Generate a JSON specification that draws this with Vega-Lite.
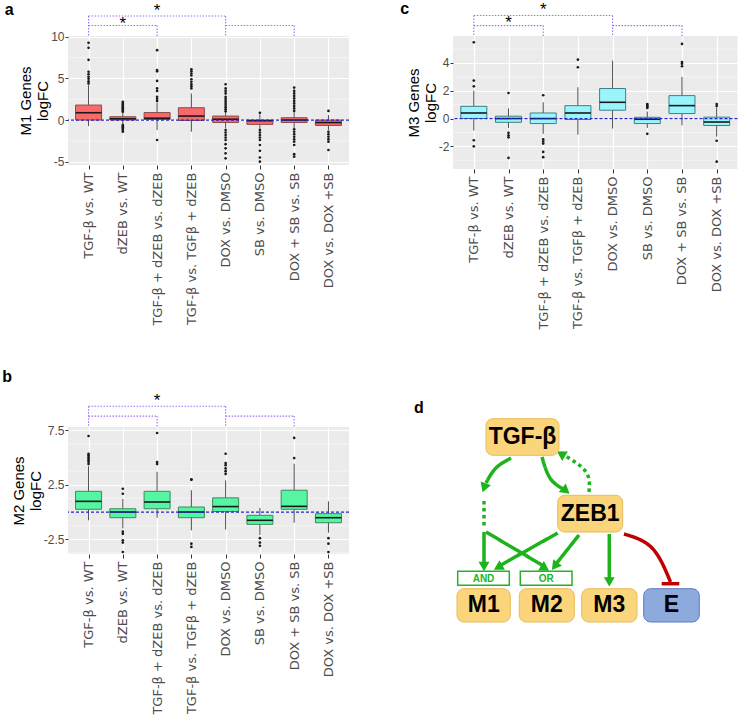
{
  "$schema": "https://vega.github.io/schema/vega-lite/v6.json",
  "background": "white",
  "padding": {"left": 2, "top": 0, "right": 0, "bottom": 0},
  "config": {
    "view": {"fill": "#EBEBEB", "stroke": null},
    "font": "Liberation Sans",
    "axisY": {"labelOverlap": false, "labelFlush": false, "labelBound": false, "labelSeparation": -40},
    "title": {"fontSize": 16, "fontWeight": "bold", "anchor": "start", "font": "Liberation Sans", "color": "black"}
  },
  "datasets": {
    "gridA": [{"v": -2.5}, {"v": 2.5}, {"v": 7.5}],
    "gridB": [{"v": -3.75}, {"v": -1.25}, {"v": 1.25}, {"v": 3.75}, {"v": 6.25}],
    "gridC": [{"v": -3}, {"v": -1}, {"v": 1}, {"v": 3}, {"v": 5}],
    "boxA": [
      {"g": "TGF-β vs. WT", "lo": -0.72, "q1": 0.0, "med": 0.88, "q3": 1.8, "hi": 4.2},
      {"g": "dZEB vs. WT", "lo": -0.5, "q1": 0.0, "med": 0.15, "q3": 0.4, "hi": 0.95},
      {"g": "TGF-β + dZEB vs. dZEB", "lo": -1.2, "q1": 0.07, "med": 0.22, "q3": 0.9, "hi": 2.1},
      {"g": "TGF-β vs. TGFβ + dZEB", "lo": -1.4, "q1": -0.05, "med": 0.48, "q3": 1.48, "hi": 3.2},
      {"g": "DOX vs. DMSO", "lo": -1.0, "q1": -0.29, "med": 0.1, "q3": 0.48, "hi": 0.95},
      {"g": "SB vs. DMSO", "lo": -1.1, "q1": -0.52, "med": -0.08, "q3": 0.0, "hi": 0.7},
      {"g": "DOX + SB vs. SB", "lo": -1.0, "q1": -0.29, "med": 0.0, "q3": 0.28, "hi": 0.95},
      {"g": "DOX vs. DOX +SB", "lo": -1.2, "q1": -0.65, "med": -0.3, "q3": 0.0, "hi": 0.6}
    ],
    "outA": [
      {"g": "TGF-β vs. WT", "v": [9.28, 8.68, 7.24, 5.8, 5.5, 5.2, 4.95, 4.65, 4.4]},
      {"g": "dZEB vs. WT", "v": [2.2, 2.0, 1.85, 1.7, 1.55, 1.4, 1.25, 1.1, 1.0, -0.6, -0.75, -0.9, -1.05, -1.2, -1.4]},
      {"g": "TGF-β + dZEB vs. dZEB", "v": [8.4, 6.0, 5.85, 4.7, 3.8, 3.5, 2.8, 2.55, 2.3, -2.4]},
      {"g": "TGF-β vs. TGFβ + dZEB", "v": [6.1, 5.85, 5.6, 5.35, 4.9, 4.6, 4.3, 4.05, 3.8]},
      {"g": "DOX vs. DMSO", "v": [4.3, 3.8, 3.5, 3.2, 2.8, 2.55, 2.3, 2.05, 1.8, 1.55, 1.3, 1.05, -1.2, -1.5, -1.8, -2.1, -2.4, -2.9, -3.4, -4.0, -4.6]},
      {"g": "SB vs. DMSO", "v": [0.88, -1.2, -1.5, -1.8, -2.1, -2.4, -3.0, -3.7, -4.5, -5.0]},
      {"g": "DOX + SB vs. SB", "v": [3.9, 3.5, 3.2, 2.9, 2.6, 2.3, 2.0, 1.7, 1.4, 1.1, -1.1, -1.4, -1.7, -2.0, -2.3, -2.6, -3.0, -4.1, -4.4]},
      {"g": "DOX vs. DOX +SB", "v": [1.1, -1.4, -1.7, -2.0, -2.3, -2.6, -3.6]}
    ],
    "boxB": [
      {"g": "TGF-β vs. WT", "lo": -0.76, "q1": 0.25, "med": 0.98, "q3": 1.9, "hi": 4.2},
      {"g": "dZEB vs. WT", "lo": -1.5, "q1": -0.52, "med": 0.0, "q3": 0.3, "hi": 1.2},
      {"g": "TGF-β + dZEB vs. dZEB", "lo": -0.52, "q1": 0.3, "med": 0.92, "q3": 1.9, "hi": 3.7},
      {"g": "TGF-β vs. TGFβ + dZEB", "lo": -1.68, "q1": -0.52, "med": 0.0, "q3": 0.46, "hi": 2.0},
      {"g": "DOX vs. DMSO", "lo": -1.6, "q1": 0.05, "med": 0.5, "q3": 1.3, "hi": 2.9},
      {"g": "SB vs. DMSO", "lo": -2.1, "q1": -1.13, "med": -0.76, "q3": -0.3, "hi": 0.37},
      {"g": "DOX + SB vs. SB", "lo": -0.98, "q1": 0.25, "med": 0.52, "q3": 2.0, "hi": 4.43},
      {"g": "DOX vs. DOX +SB", "lo": -1.9, "q1": -0.98, "med": -0.52, "q3": -0.15, "hi": 0.98}
    ],
    "outB": [
      {"g": "TGF-β vs. WT", "v": [6.97, 5.35, 5.2, 5.05, 4.9, 4.75, 4.6, 4.4]},
      {"g": "dZEB vs. WT", "v": [2.14, 1.68, -1.8, -2.0, -2.6, -2.8, -3.67]},
      {"g": "TGF-β + dZEB vs. dZEB", "v": [7.25, 4.59, 4.4]},
      {"g": "TGF-β vs. TGFβ + dZEB", "v": [3.0, 2.95, -2.9, -3.2]},
      {"g": "DOX vs. DMSO", "v": [5.35, 4.5, 4.3, 4.0, 3.75, 3.5]},
      {"g": "SB vs. DMSO", "v": [-2.4, -2.8, -3.1]},
      {"g": "DOX + SB vs. SB", "v": [6.8, 4.95]},
      {"g": "DOX vs. DOX +SB", "v": [-2.4, -2.9, -3.67]}
    ],
    "boxC": [
      {"g": "TGF-β vs. WT", "lo": -0.86, "q1": 0.0, "med": 0.4, "q3": 0.88, "hi": 2.0},
      {"g": "dZEB vs. WT", "lo": -0.67, "q1": -0.27, "med": 0.0, "q3": 0.17, "hi": 0.72},
      {"g": "TGF-β + dZEB vs. dZEB", "lo": -1.1, "q1": -0.36, "med": 0.0, "q3": 0.4, "hi": 1.17},
      {"g": "TGF-β vs. TGFβ + dZEB", "lo": -1.15, "q1": -0.07, "med": 0.4, "q3": 0.93, "hi": 2.25},
      {"g": "DOX vs. DMSO", "lo": -0.72, "q1": 0.6, "med": 1.17, "q3": 2.16, "hi": 4.17},
      {"g": "SB vs. DMSO", "lo": -0.67, "q1": -0.36, "med": -0.05, "q3": 0.09, "hi": 0.5},
      {"g": "DOX + SB vs. SB", "lo": -0.48, "q1": 0.36, "med": 0.93, "q3": 1.65, "hi": 3.0},
      {"g": "DOX vs. DOX +SB", "lo": -1.3, "q1": -0.5, "med": -0.25, "q3": 0.1, "hi": 0.8}
    ],
    "outC": [
      {"g": "TGF-β vs. WT", "v": [5.49, 2.73, 2.32, -1.56, -2.0]},
      {"g": "dZEB vs. WT", "v": [1.84, -1.03, -1.2, -1.35, -2.83]},
      {"g": "TGF-β + dZEB vs. dZEB", "v": [1.68, -1.5, -1.65, -1.8, -2.4, -2.78]},
      {"g": "TGF-β vs. TGFβ + dZEB", "v": [4.24, 3.69]},
      {"g": "SB vs. DMSO", "v": [1.05, 0.97, 0.9, 0.83, 0.76, -1.1]},
      {"g": "DOX + SB vs. SB", "v": [5.37, 4.07, 3.95, 3.76]},
      {"g": "DOX vs. DOX +SB", "v": [1.05, 0.9, -1.6, -3.1]}
    ],
    "brA_h": [
      {"g": "TGF-β vs. WT", "g2": "DOX vs. DMSO", "lev": 12.5},
      {"g": "TGF-β vs. WT", "g2": "TGF-β + dZEB vs. dZEB", "lev": 11.36},
      {"g": "DOX vs. DMSO", "g2": "DOX + SB vs. SB", "lev": 11.36}
    ],
    "brA_v": [
      {"g": "TGF-β vs. WT", "lev": 12.5},
      {"g": "DOX vs. DMSO", "lev": 12.5},
      {"g": "TGF-β + dZEB vs. dZEB", "lev": 11.36},
      {"g": "DOX + SB vs. SB", "lev": 11.36}
    ],
    "starA": [
      {"g": "TGF-β + dZEB vs. dZEB", "lev": 14.1},
      {"g": "dZEB vs. WT", "lev": 12.55}
    ],
    "brB_h": [
      {"g": "TGF-β vs. WT", "g2": "DOX vs. DMSO", "lev": 9.7},
      {"g": "TGF-β vs. WT", "g2": "TGF-β + dZEB vs. dZEB", "lev": 8.8},
      {"g": "DOX vs. DMSO", "g2": "DOX + SB vs. SB", "lev": 8.8}
    ],
    "brB_v": [
      {"g": "TGF-β vs. WT", "lev": 9.7},
      {"g": "DOX vs. DMSO", "lev": 9.7},
      {"g": "TGF-β + dZEB vs. dZEB", "lev": 8.8},
      {"g": "DOX + SB vs. SB", "lev": 8.8}
    ],
    "starB": [
      {"g": "TGF-β + dZEB vs. dZEB", "lev": 10.96}
    ],
    "brC_h": [
      {"g": "TGF-β vs. WT", "g2": "DOX vs. DMSO", "lev": 7.41},
      {"g": "TGF-β vs. WT", "g2": "TGF-β + dZEB vs. dZEB", "lev": 6.69},
      {"g": "DOX vs. DMSO", "g2": "DOX + SB vs. SB", "lev": 6.69}
    ],
    "brC_v": [
      {"g": "TGF-β vs. WT", "lev": 7.41},
      {"g": "DOX vs. DMSO", "lev": 7.41},
      {"g": "TGF-β + dZEB vs. dZEB", "lev": 6.69},
      {"g": "DOX + SB vs. SB", "lev": 6.69}
    ],
    "starC": [
      {"g": "TGF-β + dZEB vs. dZEB", "lev": 8.41},
      {"g": "dZEB vs. WT", "lev": 7.48}
    ],
    "nodesD": [
      {"label": "TGF-β", "x": 485, "x2": 558, "y": 416.7, "y2": 453.3, "cx": 521.5, "cy": 435, "kind": "node"},
      {"label": "ZEB1", "x": 556.7, "x2": 621.7, "y": 493.3, "y2": 530, "cx": 589.2, "cy": 511.7, "kind": "node"},
      {"label": "M1", "x": 456, "x2": 509.3, "y": 586.7, "y2": 620, "cx": 482.7, "cy": 603.3, "kind": "node"},
      {"label": "M2", "x": 518.3, "x2": 573.3, "y": 586.7, "y2": 620, "cx": 545.8, "cy": 603.3, "kind": "node"},
      {"label": "M3", "x": 580.7, "x2": 636, "y": 586.7, "y2": 620, "cx": 608.3, "cy": 603.3, "kind": "node"},
      {"label": "E", "x": 642.7, "x2": 698.3, "y": 586.7, "y2": 620, "cx": 670.5, "cy": 603.3, "kind": "target"}
    ],
    "logicD": [
      {"label": "AND", "x": 456.7, "x2": 508.3, "y": 569.3, "y2": 583.3, "cx": 482.5, "cy": 576.5},
      {"label": "OR", "x": 519.3, "x2": 571, "y": 569.3, "y2": 583.3, "cx": 545.2, "cy": 576.5}
    ],
    "pathsD": [
      {"id": "p1", "style": "solid", "o": 1, "x": 510, "y": 456},
      {"id": "p1", "style": "solid", "o": 2, "x": 495, "y": 466},
      {"id": "p1", "style": "solid", "o": 3, "x": 485, "y": 481},
      {"id": "p2", "style": "dotted", "o": 1, "x": 483, "y": 499},
      {"id": "p2", "style": "dotted", "o": 2, "x": 483, "y": 527},
      {"id": "p3", "style": "solid", "o": 1, "x": 483, "y": 530},
      {"id": "p3", "style": "solid", "o": 2, "x": 483, "y": 561},
      {"id": "p4", "style": "solid", "o": 1, "x": 485, "y": 530},
      {"id": "p4", "style": "solid", "o": 2, "x": 541, "y": 563},
      {"id": "p5", "style": "solid", "o": 1, "x": 541, "y": 455},
      {"id": "p5", "style": "solid", "o": 2, "x": 549, "y": 476},
      {"id": "p5", "style": "solid", "o": 3, "x": 562, "y": 487},
      {"id": "p6", "style": "dotted", "o": 1, "x": 588, "y": 490},
      {"id": "p6", "style": "dotted", "o": 2, "x": 585, "y": 470},
      {"id": "p6", "style": "dotted", "o": 3, "x": 563, "y": 453},
      {"id": "p7", "style": "solid", "o": 1, "x": 556.7, "y": 531},
      {"id": "p7", "style": "solid", "o": 2, "x": 500, "y": 563},
      {"id": "p8", "style": "solid", "o": 1, "x": 578, "y": 533},
      {"id": "p8", "style": "solid", "o": 2, "x": 555, "y": 562},
      {"id": "p9", "style": "solid", "o": 1, "x": 608.3, "y": 532},
      {"id": "p9", "style": "solid", "o": 2, "x": 608.3, "y": 576},
      {"id": "p10", "style": "inhib", "o": 1, "x": 623, "y": 532},
      {"id": "p10", "style": "inhib", "o": 2, "x": 651, "y": 546},
      {"id": "p10", "style": "inhib", "o": 3, "x": 669.5, "y": 580}
    ],
    "headsD": [
      {"x": 483.7, "y": 484.3, "angle": 200},
      {"x": 483, "y": 563, "angle": 180},
      {"x": 542.7, "y": 565.4, "angle": 121.5},
      {"x": 563.7, "y": 487.8, "angle": 130},
      {"x": 561.3, "y": 452.6, "angle": 301},
      {"x": 498.4, "y": 564.6, "angle": 240.7},
      {"x": 554.7, "y": 563, "angle": 217.3},
      {"x": 608.3, "y": 578.3, "angle": 180}
    ],
    "barD": [
      {"x": 660.7, "x2": 678.3, "y": 581.7}
    ]
  },
  "spacing": 38,
  "vconcat": [
    {
      "spacing": 50,
      "hconcat": [
        {
          "width": 281, "height": 129,
          "title": {"text": "a", "dx": -14, "offset": -15.8},
          "layer": [
            {"data": {"name": "gridA"}, "mark": {"type": "rule", "color": "white", "strokeWidth": 0.5},
             "encoding": {"y": {"field": "v", "type": "quantitative", "scale": {"domain": [-5.4, 10.1], "nice": false, "zero": false},
                     "axis": {"title": ["M1 Genes", "logFC"], "titleFont": "Liberation Sans", "titleFontSize": 15, "titleFontWeight": "normal", "titleColor": "black", "titlePadding": 0, "titleLineHeight": 17, "values": [-5, 0, 5, 10], "labelExpr": "replace(datum.label, '−', '-')", "labelOverlap": false, "labelFontSize": 12, "labelColor": "#4D4D4D", "labelPadding": 1, "tickSize": 3, "tickColor": "#333333", "domain": false, "grid": true, "gridColor": "white", "gridWidth": 1.2}}}},
            {"data": {"name": "boxA"}, "mark": {"type": "rule", "color": "#4D4D4D", "strokeWidth": 1},
             "encoding": {
               "x": {"field": "g", "type": "nominal", "scale": {"type": "point", "padding": 0.6, "domain": ["TGF-β vs. WT", "dZEB vs. WT", "TGF-β + dZEB vs. dZEB", "TGF-β vs. TGFβ + dZEB", "DOX vs. DMSO", "SB vs. DMSO", "DOX + SB vs. SB", "DOX vs. DOX +SB"]},
                     "axis": {"title": null, "labelAngle": -90, "labelFont": "DejaVu Sans", "labelFontSize": 13, "labelColor": "#4D4D4D", "labelPadding": 3, "labelLimit": 0, "labelOverlap": false, "tickColor": "#333333", "tickSize": 4, "domain": false, "grid": true, "gridColor": "white", "gridWidth": 1.2}},
               "y": {"field": "lo", "type": "quantitative", "scale": {"domain": [-5.4, 10.1], "nice": false, "zero": false}},
               "y2": {"field": "hi"}}},
            {"data": {"name": "boxA"}, "mark": {"type": "bar", "size": 26, "fill": "#F8696B", "stroke": "#8C4A4A", "strokeWidth": 1},
             "encoding": {
               "x": {"field": "g", "type": "nominal", "scale": {"type": "point", "padding": 0.6, "domain": ["TGF-β vs. WT", "dZEB vs. WT", "TGF-β + dZEB vs. dZEB", "TGF-β vs. TGFβ + dZEB", "DOX vs. DMSO", "SB vs. DMSO", "DOX + SB vs. SB", "DOX vs. DOX +SB"]}},
               "y": {"field": "q1", "type": "quantitative", "scale": {"domain": [-5.4, 10.1], "nice": false, "zero": false}},
               "y2": {"field": "q3"}}},
            {"data": {"name": "boxA"}, "mark": {"type": "tick", "size": 26, "thickness": 1.6, "color": "#1A1A1A", "opacity": 1},
             "encoding": {
               "x": {"field": "g", "type": "nominal", "scale": {"type": "point", "padding": 0.6, "domain": ["TGF-β vs. WT", "dZEB vs. WT", "TGF-β + dZEB vs. dZEB", "TGF-β vs. TGFβ + dZEB", "DOX vs. DMSO", "SB vs. DMSO", "DOX + SB vs. SB", "DOX vs. DOX +SB"]}},
               "y": {"field": "med", "type": "quantitative", "scale": {"domain": [-5.4, 10.1], "nice": false, "zero": false}}}},
            {"data": {"name": "outA"}, "transform": [{"flatten": ["v"]}], "mark": {"type": "point", "filled": true, "size": 7, "color": "#1A1A1A", "opacity": 1},
             "encoding": {
               "x": {"field": "g", "type": "nominal", "scale": {"type": "point", "padding": 0.6, "domain": ["TGF-β vs. WT", "dZEB vs. WT", "TGF-β + dZEB vs. dZEB", "TGF-β vs. TGFβ + dZEB", "DOX vs. DMSO", "SB vs. DMSO", "DOX + SB vs. SB", "DOX vs. DOX +SB"]}},
               "y": {"field": "v", "type": "quantitative", "scale": {"domain": [-5.4, 10.1], "nice": false, "zero": false}}}},
            {"data": {"values": [{}]}, "mark": {"type": "rule", "color": "#2424D0", "strokeDash": [3, 2], "strokeWidth": 1.2},
             "encoding": {"y": {"datum": 0, "type": "quantitative", "scale": {"domain": [-5.4, 10.1], "nice": false, "zero": false}}}},
            {"data": {"name": "brA_h"}, "mark": {"type": "rule", "color": "#9F6FF2", "strokeDash": [1.5, 1.5], "strokeWidth": 1.1},
             "encoding": {
               "x": {"field": "g", "type": "nominal", "scale": {"type": "point", "padding": 0.6, "domain": ["TGF-β vs. WT", "dZEB vs. WT", "TGF-β + dZEB vs. dZEB", "TGF-β vs. TGFβ + dZEB", "DOX vs. DMSO", "SB vs. DMSO", "DOX + SB vs. SB", "DOX vs. DOX +SB"]}},
               "x2": {"field": "g2"},
               "y": {"field": "lev", "type": "quantitative", "scale": {"domain": [-5.4, 10.1], "nice": false, "zero": false}}}},
            {"data": {"name": "brA_v"}, "mark": {"type": "rule", "color": "#9F6FF2", "strokeDash": [1.5, 1.5], "strokeWidth": 1.1},
             "encoding": {
               "x": {"field": "g", "type": "nominal", "scale": {"type": "point", "padding": 0.6, "domain": ["TGF-β vs. WT", "dZEB vs. WT", "TGF-β + dZEB vs. dZEB", "TGF-β vs. TGFβ + dZEB", "DOX vs. DMSO", "SB vs. DMSO", "DOX + SB vs. SB", "DOX vs. DOX +SB"]}},
               "y": {"field": "lev", "type": "quantitative", "scale": {"domain": [-5.4, 10.1], "nice": false, "zero": false}},
               "y2": {"datum": 10.1}}},
            {"data": {"name": "starA"}, "mark": {"type": "text", "text": "*", "fontSize": 17, "font": "Liberation Sans", "color": "black", "baseline": "top"},
             "encoding": {
               "x": {"field": "g", "type": "nominal", "scale": {"type": "point", "padding": 0.6, "domain": ["TGF-β vs. WT", "dZEB vs. WT", "TGF-β + dZEB vs. dZEB", "TGF-β vs. TGFβ + dZEB", "DOX vs. DMSO", "SB vs. DMSO", "DOX + SB vs. SB", "DOX vs. DOX +SB"]}},
               "y": {"field": "lev", "type": "quantitative", "scale": {"domain": [-5.4, 10.1], "nice": false, "zero": false}}}}
          ]
        },
        {
          "width": 284.5, "height": 133,
          "title": {"text": "c", "dx": -6, "offset": -16.8},
          "layer": [
            {"data": {"name": "gridC"}, "mark": {"type": "rule", "color": "white", "strokeWidth": 0.5},
             "encoding": {"y": {"field": "v", "type": "quantitative", "scale": {"domain": [-3.63, 5.94], "nice": false, "zero": false},
                     "axis": {"title": ["M3 Genes", "logFC"], "titleFont": "Liberation Sans", "titleFontSize": 15, "titleFontWeight": "normal", "titleColor": "black", "titlePadding": 0, "titleLineHeight": 17, "values": [-2, 0, 2, 4], "labelExpr": "replace(datum.label, '−', '-')", "labelOverlap": false, "labelFontSize": 12, "labelColor": "#4D4D4D", "labelPadding": 1, "tickSize": 3, "tickColor": "#333333", "domain": false, "grid": true, "gridColor": "white", "gridWidth": 1.2}}}},
            {"data": {"name": "boxC"}, "mark": {"type": "rule", "color": "#4D4D4D", "strokeWidth": 1},
             "encoding": {
               "x": {"field": "g", "type": "nominal", "scale": {"type": "point", "padding": 0.6, "domain": ["TGF-β vs. WT", "dZEB vs. WT", "TGF-β + dZEB vs. dZEB", "TGF-β vs. TGFβ + dZEB", "DOX vs. DMSO", "SB vs. DMSO", "DOX + SB vs. SB", "DOX vs. DOX +SB"]},
                     "axis": {"title": null, "labelAngle": -90, "labelFont": "DejaVu Sans", "labelFontSize": 13, "labelColor": "#4D4D4D", "labelPadding": 3, "labelLimit": 0, "labelOverlap": false, "tickColor": "#333333", "tickSize": 4, "domain": false, "grid": true, "gridColor": "white", "gridWidth": 1.2}},
               "y": {"field": "lo", "type": "quantitative", "scale": {"domain": [-3.63, 5.94], "nice": false, "zero": false}},
               "y2": {"field": "hi"}}},
            {"data": {"name": "boxC"}, "mark": {"type": "bar", "size": 26, "fill": "#9AF4FB", "stroke": "#3F7F84", "strokeWidth": 1},
             "encoding": {
               "x": {"field": "g", "type": "nominal", "scale": {"type": "point", "padding": 0.6, "domain": ["TGF-β vs. WT", "dZEB vs. WT", "TGF-β + dZEB vs. dZEB", "TGF-β vs. TGFβ + dZEB", "DOX vs. DMSO", "SB vs. DMSO", "DOX + SB vs. SB", "DOX vs. DOX +SB"]}},
               "y": {"field": "q1", "type": "quantitative", "scale": {"domain": [-3.63, 5.94], "nice": false, "zero": false}},
               "y2": {"field": "q3"}}},
            {"data": {"name": "boxC"}, "mark": {"type": "tick", "size": 26, "thickness": 1.6, "color": "#1A1A1A", "opacity": 1},
             "encoding": {
               "x": {"field": "g", "type": "nominal", "scale": {"type": "point", "padding": 0.6, "domain": ["TGF-β vs. WT", "dZEB vs. WT", "TGF-β + dZEB vs. dZEB", "TGF-β vs. TGFβ + dZEB", "DOX vs. DMSO", "SB vs. DMSO", "DOX + SB vs. SB", "DOX vs. DOX +SB"]}},
               "y": {"field": "med", "type": "quantitative", "scale": {"domain": [-3.63, 5.94], "nice": false, "zero": false}}}},
            {"data": {"name": "outC"}, "transform": [{"flatten": ["v"]}], "mark": {"type": "point", "filled": true, "size": 7, "color": "#1A1A1A", "opacity": 1},
             "encoding": {
               "x": {"field": "g", "type": "nominal", "scale": {"type": "point", "padding": 0.6, "domain": ["TGF-β vs. WT", "dZEB vs. WT", "TGF-β + dZEB vs. dZEB", "TGF-β vs. TGFβ + dZEB", "DOX vs. DMSO", "SB vs. DMSO", "DOX + SB vs. SB", "DOX vs. DOX +SB"]}},
               "y": {"field": "v", "type": "quantitative", "scale": {"domain": [-3.63, 5.94], "nice": false, "zero": false}}}},
            {"data": {"values": [{}]}, "mark": {"type": "rule", "color": "#2424D0", "strokeDash": [3, 2], "strokeWidth": 1.2},
             "encoding": {"y": {"datum": 0, "type": "quantitative", "scale": {"domain": [-3.63, 5.94], "nice": false, "zero": false}}}},
            {"data": {"name": "brC_h"}, "mark": {"type": "rule", "color": "#9F6FF2", "strokeDash": [1.5, 1.5], "strokeWidth": 1.1},
             "encoding": {
               "x": {"field": "g", "type": "nominal", "scale": {"type": "point", "padding": 0.6, "domain": ["TGF-β vs. WT", "dZEB vs. WT", "TGF-β + dZEB vs. dZEB", "TGF-β vs. TGFβ + dZEB", "DOX vs. DMSO", "SB vs. DMSO", "DOX + SB vs. SB", "DOX vs. DOX +SB"]}},
               "x2": {"field": "g2"},
               "y": {"field": "lev", "type": "quantitative", "scale": {"domain": [-3.63, 5.94], "nice": false, "zero": false}}}},
            {"data": {"name": "brC_v"}, "mark": {"type": "rule", "color": "#9F6FF2", "strokeDash": [1.5, 1.5], "strokeWidth": 1.1},
             "encoding": {
               "x": {"field": "g", "type": "nominal", "scale": {"type": "point", "padding": 0.6, "domain": ["TGF-β vs. WT", "dZEB vs. WT", "TGF-β + dZEB vs. dZEB", "TGF-β vs. TGFβ + dZEB", "DOX vs. DMSO", "SB vs. DMSO", "DOX + SB vs. SB", "DOX vs. DOX +SB"]}},
               "y": {"field": "lev", "type": "quantitative", "scale": {"domain": [-3.63, 5.94], "nice": false, "zero": false}},
               "y2": {"datum": 5.94}}},
            {"data": {"name": "starC"}, "mark": {"type": "text", "text": "*", "fontSize": 17, "font": "Liberation Sans", "color": "black", "baseline": "top"},
             "encoding": {
               "x": {"field": "g", "type": "nominal", "scale": {"type": "point", "padding": 0.6, "domain": ["TGF-β vs. WT", "dZEB vs. WT", "TGF-β + dZEB vs. dZEB", "TGF-β vs. TGFβ + dZEB", "DOX vs. DMSO", "SB vs. DMSO", "DOX + SB vs. SB", "DOX vs. DOX +SB"]}},
               "y": {"field": "lev", "type": "quantitative", "scale": {"domain": [-3.63, 5.94], "nice": false, "zero": false}}}}
          ]
        }
      ]
    },
    {
      "spacing": 56,
      "hconcat": [
        {
          "width": 281, "height": 127,
          "title": {"text": "b", "dx": -9, "offset": 6.8},
          "layer": [
            {"data": {"name": "gridB"}, "mark": {"type": "rule", "color": "white", "strokeWidth": 0.5},
             "encoding": {"y": {"field": "v", "type": "quantitative", "scale": {"domain": [-3.85, 7.8], "nice": false, "zero": false},
                     "axis": {"title": ["M2 Genes", "logFC"], "titleFont": "Liberation Sans", "titleFontSize": 15, "titleFontWeight": "normal", "titleColor": "black", "titlePadding": 0, "titleLineHeight": 17, "values": [-2.5, 0, 2.5, 5, 7.5], "labelExpr": "replace(format(datum.value, '.1f'), '−', '-')", "labelOverlap": false, "labelSeparation": -40, "labelFontSize": 12, "labelColor": "#4D4D4D", "labelPadding": 1, "tickSize": 3, "tickColor": "#333333", "domain": false, "grid": true, "gridColor": "white", "gridWidth": 1.2}}}},
            {"data": {"name": "boxB"}, "mark": {"type": "rule", "color": "#4D4D4D", "strokeWidth": 1},
             "encoding": {
               "x": {"field": "g", "type": "nominal", "scale": {"type": "point", "padding": 0.6, "domain": ["TGF-β vs. WT", "dZEB vs. WT", "TGF-β + dZEB vs. dZEB", "TGF-β vs. TGFβ + dZEB", "DOX vs. DMSO", "SB vs. DMSO", "DOX + SB vs. SB", "DOX vs. DOX +SB"]},
                     "axis": {"title": null, "labelAngle": -90, "labelFont": "DejaVu Sans", "labelFontSize": 13, "labelColor": "#4D4D4D", "labelPadding": 3, "labelLimit": 0, "labelOverlap": false, "tickColor": "#333333", "tickSize": 4, "domain": false, "grid": true, "gridColor": "white", "gridWidth": 1.2}},
               "y": {"field": "lo", "type": "quantitative", "scale": {"domain": [-3.85, 7.8], "nice": false, "zero": false}},
               "y2": {"field": "hi"}}},
            {"data": {"name": "boxB"}, "mark": {"type": "bar", "size": 26, "fill": "#55F5A3", "stroke": "#3D8A60", "strokeWidth": 1},
             "encoding": {
               "x": {"field": "g", "type": "nominal", "scale": {"type": "point", "padding": 0.6, "domain": ["TGF-β vs. WT", "dZEB vs. WT", "TGF-β + dZEB vs. dZEB", "TGF-β vs. TGFβ + dZEB", "DOX vs. DMSO", "SB vs. DMSO", "DOX + SB vs. SB", "DOX vs. DOX +SB"]}},
               "y": {"field": "q1", "type": "quantitative", "scale": {"domain": [-3.85, 7.8], "nice": false, "zero": false}},
               "y2": {"field": "q3"}}},
            {"data": {"name": "boxB"}, "mark": {"type": "tick", "size": 26, "thickness": 1.6, "color": "#1A1A1A", "opacity": 1},
             "encoding": {
               "x": {"field": "g", "type": "nominal", "scale": {"type": "point", "padding": 0.6, "domain": ["TGF-β vs. WT", "dZEB vs. WT", "TGF-β + dZEB vs. dZEB", "TGF-β vs. TGFβ + dZEB", "DOX vs. DMSO", "SB vs. DMSO", "DOX + SB vs. SB", "DOX vs. DOX +SB"]}},
               "y": {"field": "med", "type": "quantitative", "scale": {"domain": [-3.85, 7.8], "nice": false, "zero": false}}}},
            {"data": {"name": "outB"}, "transform": [{"flatten": ["v"]}], "mark": {"type": "point", "filled": true, "size": 7, "color": "#1A1A1A", "opacity": 1},
             "encoding": {
               "x": {"field": "g", "type": "nominal", "scale": {"type": "point", "padding": 0.6, "domain": ["TGF-β vs. WT", "dZEB vs. WT", "TGF-β + dZEB vs. dZEB", "TGF-β vs. TGFβ + dZEB", "DOX vs. DMSO", "SB vs. DMSO", "DOX + SB vs. SB", "DOX vs. DOX +SB"]}},
               "y": {"field": "v", "type": "quantitative", "scale": {"domain": [-3.85, 7.8], "nice": false, "zero": false}}}},
            {"data": {"values": [{}]}, "mark": {"type": "rule", "color": "#2424D0", "strokeDash": [3, 2], "strokeWidth": 1.2},
             "encoding": {"y": {"datum": 0, "type": "quantitative", "scale": {"domain": [-3.85, 7.8], "nice": false, "zero": false}}}},
            {"data": {"name": "brB_h"}, "mark": {"type": "rule", "color": "#9F6FF2", "strokeDash": [1.5, 1.5], "strokeWidth": 1.1},
             "encoding": {
               "x": {"field": "g", "type": "nominal", "scale": {"type": "point", "padding": 0.6, "domain": ["TGF-β vs. WT", "dZEB vs. WT", "TGF-β + dZEB vs. dZEB", "TGF-β vs. TGFβ + dZEB", "DOX vs. DMSO", "SB vs. DMSO", "DOX + SB vs. SB", "DOX vs. DOX +SB"]}},
               "x2": {"field": "g2"},
               "y": {"field": "lev", "type": "quantitative", "scale": {"domain": [-3.85, 7.8], "nice": false, "zero": false}}}},
            {"data": {"name": "brB_v"}, "mark": {"type": "rule", "color": "#9F6FF2", "strokeDash": [1.5, 1.5], "strokeWidth": 1.1},
             "encoding": {
               "x": {"field": "g", "type": "nominal", "scale": {"type": "point", "padding": 0.6, "domain": ["TGF-β vs. WT", "dZEB vs. WT", "TGF-β + dZEB vs. dZEB", "TGF-β vs. TGFβ + dZEB", "DOX vs. DMSO", "SB vs. DMSO", "DOX + SB vs. SB", "DOX vs. DOX +SB"]}},
               "y": {"field": "lev", "type": "quantitative", "scale": {"domain": [-3.85, 7.8], "nice": false, "zero": false}},
               "y2": {"datum": 7.8}}},
            {"data": {"name": "starB"}, "mark": {"type": "text", "text": "*", "fontSize": 17, "font": "Liberation Sans", "color": "black", "baseline": "top"},
             "encoding": {
               "x": {"field": "g", "type": "nominal", "scale": {"type": "point", "padding": 0.6, "domain": ["TGF-β vs. WT", "dZEB vs. WT", "TGF-β + dZEB vs. dZEB", "TGF-β vs. TGFβ + dZEB", "DOX vs. DMSO", "SB vs. DMSO", "DOX + SB vs. SB", "DOX vs. DOX +SB"]}},
               "y": {"field": "lev", "type": "quantitative", "scale": {"domain": [-3.85, 7.8], "nice": false, "zero": false}}}}
          ]
        },
        {
          "width": 300, "height": 215,
          "view": {"fill": null, "stroke": null},
          "title": {"text": "d", "dx": 8, "offset": 1.9},
          "layer": [
            {"data": {"name": "pathsD"}, "mark": {"type": "line", "interpolate": "natural", "strokeWidth": 3.5, "strokeCap": "butt"},
             "encoding": {
               "x": {"field": "x", "type": "quantitative", "scale": {"domain": [405, 705], "nice": false, "zero": false}, "axis": null},
               "y": {"field": "y", "type": "quantitative", "scale": {"domain": [425, 640], "nice": false, "zero": false, "reverse": true}, "axis": null},
               "detail": {"field": "id"},
               "order": {"field": "o"},
               "color": {"field": "style", "type": "nominal", "scale": {"domain": ["solid", "dotted", "inhib"], "range": ["#1DB31D", "#1DB31D", "#C00000"]}, "legend": null},
               "strokeDash": {"field": "style", "type": "nominal", "scale": {"domain": ["solid", "dotted", "inhib"], "range": [[1, 0], [3.5, 3.5], [1, 0]]}, "legend": null}}},
            {"data": {"name": "barD"}, "mark": {"type": "rule", "color": "#C00000", "strokeWidth": 3.5},
             "encoding": {
               "x": {"field": "x", "type": "quantitative", "scale": {"domain": [405, 705], "nice": false, "zero": false}, "axis": null},
               "x2": {"field": "x2"},
               "y": {"field": "y", "type": "quantitative", "scale": {"domain": [425, 640], "nice": false, "zero": false, "reverse": true}, "axis": null}}},
            {"data": {"name": "headsD"}, "mark": {"type": "point", "shape": "triangle", "filled": true, "size": 120, "color": "#1DB31D", "opacity": 1},
             "encoding": {
               "x": {"field": "x", "type": "quantitative", "scale": {"domain": [405, 705], "nice": false, "zero": false}, "axis": null},
               "y": {"field": "y", "type": "quantitative", "scale": {"domain": [425, 640], "nice": false, "zero": false, "reverse": true}, "axis": null},
               "angle": {"field": "angle", "type": "quantitative", "scale": null}}},
            {"data": {"name": "nodesD"}, "mark": {"type": "rect", "cornerRadius": 7, "strokeWidth": 1},
             "encoding": {
               "x": {"field": "x", "type": "quantitative", "scale": {"domain": [405, 705], "nice": false, "zero": false}, "axis": null},
               "x2": {"field": "x2"},
               "y": {"field": "y", "type": "quantitative", "scale": {"domain": [425, 640], "nice": false, "zero": false, "reverse": true}, "axis": null},
               "y2": {"field": "y2"},
               "fill": {"field": "kind", "type": "nominal", "scale": {"domain": ["node", "target"], "range": ["#FAD57C", "#8EA9DB"]}, "legend": null},
               "stroke": {"field": "kind", "type": "nominal", "scale": {"domain": ["node", "target"], "range": ["#E8BC5A", "#5A7CBF"]}, "legend": null}}},
            {"data": {"name": "nodesD"}, "mark": {"type": "text", "font": "Liberation Sans", "fontWeight": "bold", "fontSize": 23, "color": "black", "baseline": "middle", "align": "center"},
             "encoding": {
               "x": {"field": "cx", "type": "quantitative", "scale": {"domain": [405, 705], "nice": false, "zero": false}, "axis": null},
               "y": {"field": "cy", "type": "quantitative", "scale": {"domain": [425, 640], "nice": false, "zero": false, "reverse": true}, "axis": null},
               "text": {"field": "label"}}},
            {"data": {"name": "logicD"}, "mark": {"type": "rect", "fill": "white", "stroke": "#22B422", "strokeWidth": 1.5},
             "encoding": {
               "x": {"field": "x", "type": "quantitative", "scale": {"domain": [405, 705], "nice": false, "zero": false}, "axis": null},
               "x2": {"field": "x2"},
               "y": {"field": "y", "type": "quantitative", "scale": {"domain": [425, 640], "nice": false, "zero": false, "reverse": true}, "axis": null},
               "y2": {"field": "y2"}}},
            {"data": {"name": "logicD"}, "mark": {"type": "text", "font": "Liberation Sans", "fontWeight": "bold", "fontSize": 10, "color": "#22B422", "baseline": "middle", "align": "center"},
             "encoding": {
               "x": {"field": "cx", "type": "quantitative", "scale": {"domain": [405, 705], "nice": false, "zero": false}, "axis": null},
               "y": {"field": "cy", "type": "quantitative", "scale": {"domain": [425, 640], "nice": false, "zero": false, "reverse": true}, "axis": null},
               "text": {"field": "label"}}}
          ]
        }
      ]
    }
  ]
}
